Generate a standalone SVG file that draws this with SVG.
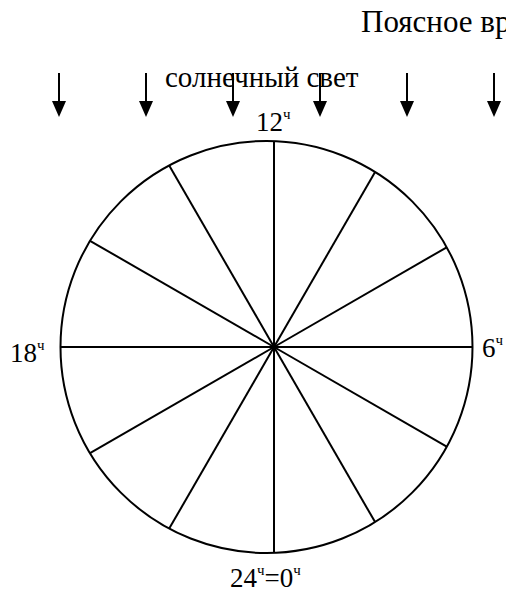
<svg xmlns="http://www.w3.org/2000/svg" width="506" height="593" viewBox="0 0 506 593">
<defs>
<style>
text{font-family:"Liberation Serif","Times New Roman",serif;fill:#000}
.t{font-size:27px}
.h{font-size:29px}
.s{font-size:15px}
.ln{stroke:#000;stroke-width:2;fill:none}
</style>
</defs>
<rect width="506" height="593" fill="#fff"/>
<g id="title"><text class="h" x="361" y="32" style="font-size:31px">Поясное вр</text></g>
<g id="sunlight">
<text class="h" x="165" y="87">солнечный свет</text>
</g>
<g id="arrows" class="ln">
<line x1="59" y1="73" x2="59" y2="101"/>
<line x1="146" y1="73" x2="146" y2="101"/>
<line x1="233" y1="73" x2="233" y2="101"/>
<line x1="320" y1="73" x2="320" y2="101"/>
<line x1="407" y1="73" x2="407" y2="101"/>
<line x1="494" y1="73" x2="494" y2="101"/>
</g>
<g id="arrowheads" fill="#000">
<path d="M52,101 L66,101 L59,117 Z"/>
<path d="M139,101 L153,101 L146,117 Z"/>
<path d="M226,101 L240,101 L233,117 Z"/>
<path d="M313,101 L327,101 L320,117 Z"/>
<path d="M400,101 L414,101 L407,117 Z"/>
<path d="M487,101 L501,101 L494,117 Z"/>
</g>
<g id="clock">
<circle class="ln" cx="266.5" cy="347" r="206"/>
</g>
<g id="spokes" class="ln">
<line x1="274" y1="347" x2="472.5" y2="347"/>
<line x1="274" y1="347" x2="446.7" y2="446.7"/>
<line x1="274" y1="347" x2="375.1" y2="522.1"/>
<line x1="274" y1="347" x2="274" y2="552.9"/>
<line x1="274" y1="347" x2="169.2" y2="528.6"/>
<line x1="274" y1="347" x2="90" y2="453.2"/>
<line x1="274" y1="347" x2="60.5" y2="347"/>
<line x1="274" y1="347" x2="90" y2="240.8"/>
<line x1="274" y1="347" x2="169.2" y2="165.4"/>
<line x1="274" y1="347" x2="274" y2="141.1"/>
<line x1="274" y1="347" x2="375.1" y2="171.9"/>
<line x1="274" y1="347" x2="446.7" y2="247.3"/>
</g>
<g id="label-12"><text class="t" x="256" y="131">12<tspan class="s" dy="-12">ч</tspan></text></g>
<g id="label-18"><text class="t" x="10" y="362">18<tspan class="s" dy="-12">ч</tspan></text></g>
<g id="label-6"><text class="t" x="482" y="357">6<tspan class="s" dy="-12">ч</tspan></text></g>
<g id="label-24"><text class="t" x="230" y="587">24<tspan class="s" dy="-12">ч</tspan><tspan dy="12">=0</tspan><tspan class="s" dy="-12">ч</tspan></text></g>
</svg>
